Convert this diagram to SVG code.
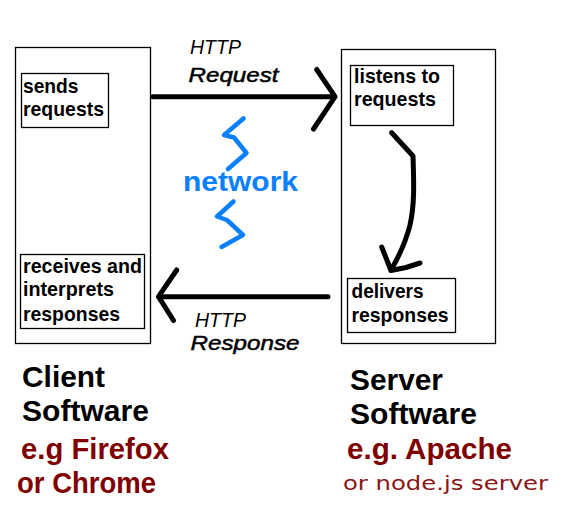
<svg xmlns="http://www.w3.org/2000/svg" width="580" height="518" viewBox="0 0 580 518">
<style>
.box{fill:none;stroke:#000;stroke-width:1.3}
.lbl{font-family:"Liberation Sans",Arial,sans-serif;font-weight:bold;font-size:21px;fill:#000}
.http{font-family:"Liberation Sans",Arial,sans-serif;font-style:italic;font-size:20px;fill:#000}
.http2{font-family:"Liberation Sans",Arial,sans-serif;font-style:italic;font-size:21px;fill:#000;stroke:#000;stroke-width:0.5}
.big{font-family:"Liberation Sans",Arial,sans-serif;font-weight:bold;font-size:30px;fill:#000}
.eg{font-family:"Liberation Sans",Arial,sans-serif;font-weight:bold;font-size:29px;fill:#800000}
.arrow{fill:none;stroke:#000;stroke-width:5;stroke-linecap:round;stroke-linejoin:round}
.zig{fill:none;stroke:#0a80ff;stroke-width:4.5;stroke-linecap:round;stroke-linejoin:round}
</style>
<rect width="580" height="518" fill="#fff"/>
<g id="client">
<rect class="box" x="15.5" y="47.5" width="135" height="296"/>
<text class="big" x="22" y="386.5" textLength="83" lengthAdjust="spacingAndGlyphs">Client</text>
<text class="big" x="22" y="420.5" textLength="127" lengthAdjust="spacingAndGlyphs">Software</text>
<text class="eg" x="21" y="459" textLength="148" lengthAdjust="spacingAndGlyphs">e.g Firefox</text>
<text class="eg" x="17" y="492.5" font-size="23" textLength="139" lengthAdjust="spacingAndGlyphs">or Chrome</text>
</g>
<g id="sends">
<rect class="box" x="21.5" y="73.5" width="87" height="54"/>
<text class="lbl" x="23" y="92.5" textLength="55.5" lengthAdjust="spacingAndGlyphs">sends</text>
<text class="lbl" x="23" y="116" textLength="81" lengthAdjust="spacingAndGlyphs">requests</text>
</g>
<g id="receives">
<rect class="box" x="20.5" y="254.5" width="124" height="74"/>
<text class="lbl" x="23" y="272.5" textLength="119" lengthAdjust="spacingAndGlyphs">receives and</text>
<text class="lbl" x="23" y="296" textLength="91" lengthAdjust="spacingAndGlyphs">interprets</text>
<text class="lbl" x="23" y="320.5" textLength="97" lengthAdjust="spacingAndGlyphs">responses</text>
</g>
<g id="server">
<rect class="box" x="341.5" y="49.5" width="154" height="294"/>
<text class="big" x="350" y="390" textLength="93" lengthAdjust="spacingAndGlyphs">Server</text>
<text class="big" x="350" y="423.5" textLength="127" lengthAdjust="spacingAndGlyphs">Software</text>
<text class="eg" x="347" y="459" textLength="165" lengthAdjust="spacingAndGlyphs">e.g. Apache</text>
<text x="343" y="490" font-family="'DejaVu Sans',sans-serif" font-size="19" fill="#8a1414" textLength="205" lengthAdjust="spacingAndGlyphs">or node.js server</text>
</g>
<g id="listens">
<rect class="box" x="350.5" y="65.5" width="103" height="60"/>
<text class="lbl" x="354" y="82.5" textLength="86" lengthAdjust="spacingAndGlyphs">listens to</text>
<text class="lbl" x="354" y="106" textLength="82" lengthAdjust="spacingAndGlyphs">requests</text>
</g>
<g id="delivers">
<rect class="box" x="347.5" y="278.5" width="108" height="54"/>
<text class="lbl" x="351.5" y="297.5" textLength="72" lengthAdjust="spacingAndGlyphs">delivers</text>
<text class="lbl" x="351.5" y="321.5" textLength="97" lengthAdjust="spacingAndGlyphs">responses</text>
</g>
<g id="network">
<path class="zig" d="M243.5,118.5 L224,135 L234,137.5 L246.5,153 L228,169"/>
<path class="zig" d="M233.5,201.5 L217,216.5 L227,220 L243,235 L221.5,247"/>
<text x="183" y="190.5" font-family="'Liberation Sans',Arial,sans-serif" font-weight="bold" font-size="28" fill="#0a80ff" textLength="115" lengthAdjust="spacingAndGlyphs">network</text>
</g>
<g id="connectors">
<path class="arrow" d="M153,96.7 L335,96.7 M316.7,69.5 L335,96.7 L313.5,129"/>
<path class="arrow" d="M328,296.7 L158.5,296.7 M176.7,270 L158.5,296.7 L173.5,320.5"/>
<path class="arrow" stroke-width="4" d="M391.7,132.7 L413,156 C414,185 414.5,205 410,225 C405,245 398,258 391,270"/>
<path class="arrow" stroke-width="4" d="M381.7,247 L391,270.5 L406,267.5 L420,263"/>
</g>
<g id="labels">
<text class="http" x="190" y="54" textLength="51" lengthAdjust="spacingAndGlyphs">HTTP</text>
<text class="http2" x="188.5" y="81.5" textLength="90" lengthAdjust="spacingAndGlyphs">Request</text>
<text class="http" x="195" y="326.5" textLength="51" lengthAdjust="spacingAndGlyphs">HTTP</text>
<text class="http2" x="190.5" y="350" textLength="109" lengthAdjust="spacingAndGlyphs">Response</text>
</g>
</svg>
